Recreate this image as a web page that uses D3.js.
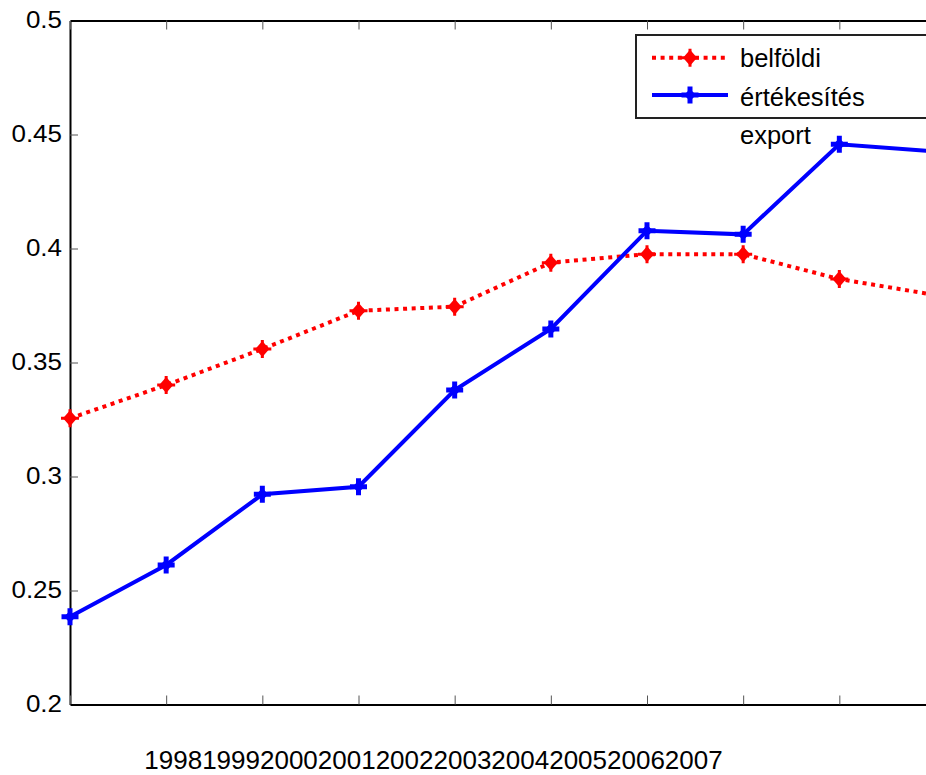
<!DOCTYPE html>
<html>
<head>
<meta charset="utf-8">
<script src="https://cdn.jsdelivr.net/npm/d3@7"></script>
<style>
  html, body { margin: 0; padding: 0; background: #fff; overflow: hidden; }
</style>
</head>
<body>
<div class="line-chart-container"></div>
<script>
const YEARS = [1998, 1999, 2000, 2001, 2002, 2003, 2004, 2005, 2006, 2007];
const BELFOLDI = [0.3255, 0.3401, 0.3559, 0.3727, 0.3745, 0.3938, 0.3975, 0.3975, 0.3866, 0.3796];
const EXPORT = [0.2385, 0.2612, 0.2922, 0.2955, 0.3379, 0.3647, 0.4078, 0.4062, 0.4457, 0.4426];
const Y_TICKS = [0.2, 0.25, 0.3, 0.35, 0.4, 0.45, 0.5];
const LEGEND_LABELS = ["belföldi", "értékesítés", "export"];

const lineChart = {
    width: 926,
    height: 775,
    margin: {top: 20.5, left: 70, bottom: 70.5},
    plotRight: 935.5,
    svg: {},
    x: {},
    y: {},
    load: function() {
        this.x = d3.scalePoint()
            .domain(YEARS)
            .range([this.margin.left, this.plotRight]);

        this.y = d3.scaleLinear()
            .domain([0.2, 0.5])
            .range([this.height - this.margin.bottom, this.margin.top]);

        this.svg = d3.select(".line-chart-container")
            .append("svg")
            .attr("width", this.width)
            .attr("height", this.height)
            .attr("font-family", "Liberation Sans, Arial, sans-serif");

        this.drawAxes();
        this.drawSeries(BELFOLDI, "#ff0000", "4,4.6", this.redMarker);
        this.drawSeries(EXPORT, "#0000ff", null, this.blueMarker);
        this.drawLegend();

        return this.svg.node();
    },
    drawAxes: function() {
        const yBottom = this.y(0.2);
        const yTop = this.y(0.5);

        const left = this.svg.append("g")
            .attr("transform", `translate(${this.margin.left},0)`)
            .call(d3.axisLeft(this.y)
                .tickValues(Y_TICKS)
                .tickSize(-8)
                .tickSizeOuter(0)
                .tickPadding(8)
                .tickFormat(d3.format("~g")));

        left.selectAll("text")
            .attr("font-size", 23)
            .attr("fill", "#000")
            .attr("x", -8 / 1.13)
            .attr("transform", "scale(1.13,1)");

        const bottom = this.svg.append("g")
            .attr("transform", `translate(0,${yBottom})`)
            .call(d3.axisBottom(this.x)
                .tickSize(-9)
                .tickSizeOuter(0)
                .tickFormat(""));

        const top = this.svg.append("g")
            .attr("transform", `translate(0,${yTop})`)
            .call(d3.axisTop(this.x)
                .tickSize(-9)
                .tickSizeOuter(0)
                .tickFormat(""));

        [left, bottom, top].forEach(g => {
            g.select(".domain").attr("stroke", "#000").attr("stroke-width", 2);
            g.selectAll(".tick line").attr("stroke", "#555").attr("stroke-width", 1);
        });
        left.selectAll(".tick").filter(d => d === 0.2 || d === 0.5).select("line").remove();

        // all year labels squeezed into one centred string, as in the original
        this.svg.append("text")
            .attr("x", 433.5)
            .attr("y", 769)
            .attr("text-anchor", "middle")
            .attr("font-size", 26)
            .attr("fill", "#000")
            .text(YEARS.join(""));
    },
    redMarker: function(g, color) {
        g.append("path")
            .attr("d", "M0,-8L7,0L0,8L-7,0Z")
            .attr("fill", color);
        g.append("path")
            .attr("d", "M-9,0H9M0,-9V9")
            .attr("stroke", color)
            .attr("stroke-width", 3);
    },
    blueMarker: function(g, color) {
        g.append("path")
            .attr("d", "M0,-6L6,0L0,6L-6,0Z")
            .attr("fill", color);
        g.append("path")
            .attr("d", "M-8.5,0H8.5M0,-8.5V8.5")
            .attr("stroke", color)
            .attr("stroke-width", 5);
    },
    drawSeries: function(values, color, dash, marker) {
        const line = d3.line()
            .x((d, i) => this.x(YEARS[i]))
            .y(d => this.y(d));

        this.svg.append("path")
            .datum(values)
            .attr("fill", "none")
            .attr("stroke", color)
            .attr("stroke-width", 4)
            .attr("stroke-dasharray", dash)
            .attr("d", line);

        this.svg.append("g")
            .selectAll("g")
            .data(values)
            .join("g")
            .attr("transform", (d, i) => `translate(${this.x(YEARS[i])},${this.y(d)})`)
            .each(function() { marker(d3.select(this), color); });
    },
    drawLegend: function() {
        const lg = this.svg.append("g");

        lg.append("rect")
            .attr("x", 636)
            .attr("y", 35)
            .attr("width", 320)
            .attr("height", 83)
            .attr("fill", "#fff")
            .attr("stroke", "#222")
            .attr("stroke-width", 2);

        const items = [
            {y: 57.7, color: "#ff0000", dash: "4,4.6", marker: this.redMarker},
            {y: 95, color: "#0000ff", dash: null, marker: this.blueMarker}
        ];

        items.forEach(it => {
            lg.append("line")
                .attr("x1", 652)
                .attr("x2", 728)
                .attr("y1", it.y)
                .attr("y2", it.y)
                .attr("stroke", it.color)
                .attr("stroke-width", 4)
                .attr("stroke-dasharray", it.dash);
            const m = lg.append("g").attr("transform", `translate(690,${it.y})`);
            it.marker(m, it.color);
        });

        lg.selectAll("text")
            .data(LEGEND_LABELS)
            .join("text")
            .attr("x", 740)
            .attr("y", (d, i) => [66.5, 105.5, 143.5][i])
            .attr("font-size", 25.5)
            .attr("fill", "#000")
            .text(d => d);
    }
};

lineChart.load();
</script>
</body>
</html>
